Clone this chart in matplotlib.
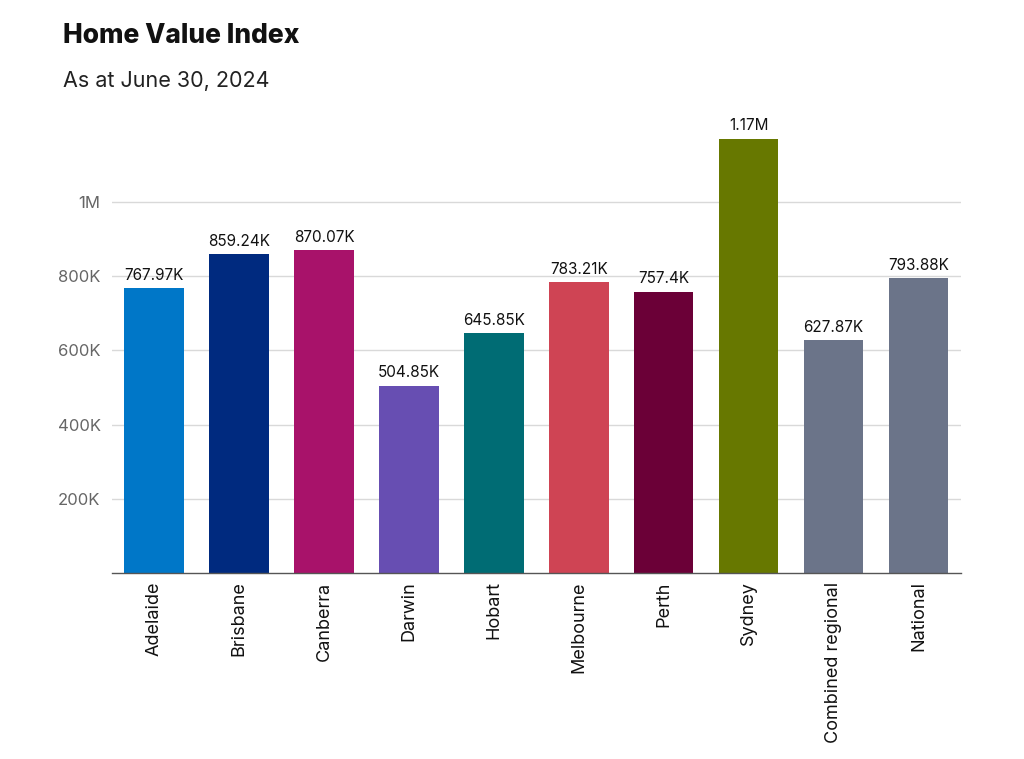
import matplotlib
matplotlib.use("Agg")
import matplotlib.pyplot as plt
from matplotlib.ticker import FuncFormatter

## Data
cities = ['Adelaide', 'Brisbane', 'Canberra', 'Darwin', 'Hobart', 'Melbourne',
          'Perth', 'Sydney', 'Combined regional', 'National']
values = [767970, 859240, 870070, 504850, 645850, 783210, 757400, 1170000, 627870, 793880]
labels = ['767.97K', '859.24K', '870.07K', '504.85K', '645.85K', '783.21K',
          '757.4K', '1.17M', '627.87K', '793.88K']
colors = ['#0077c8', '#002a7f', '#a8126a', '#674eb2', '#006c74', '#cf4454',
          '#6b0037', '#677800', '#6b7489', '#6b7489']
yticks = [200000, 400000, 600000, 800000, 1000000]

plt.rcParams['font.family'] = ['Inter', 'DejaVu Sans']

fig = plt.figure(figsize=(10.24, 7.59), dpi=100)
ax = fig.add_axes([0.109, 0.245, 0.8295, 0.5964])

x = range(len(cities))
ax.bar(x, values, width=0.7, color=colors, zorder=3)
for i, v in enumerate(values):
    ax.text(i, v + 15000, labels[i], ha='center', va='bottom', fontsize=11, color='#111111')

ax.set_xlim(-0.5, len(cities) - 0.5)
ax.set_ylim(0, 1220000)

def fmt(v, pos):
    if v >= 1000000:
        return '%gM' % (v / 1000000)
    return '%gK' % (v / 1000)

ax.set_yticks(yticks)
ax.yaxis.set_major_formatter(FuncFormatter(fmt))
ax.tick_params(axis='y', length=0, pad=8, labelsize=12, labelcolor='#666666')
ax.grid(axis='y', color='#d9d9d9', linewidth=1, zorder=0)

ax.set_xticks(list(x))
ax.set_xticklabels(cities, rotation=90, fontsize=13, color='#111111')
ax.tick_params(axis='x', length=0, pad=6)

for s in ['top', 'right', 'left']:
    ax.spines[s].set_visible(False)
ax.spines['bottom'].set_color('#555555')
ax.spines['bottom'].set_linewidth(1)
ax.spines['bottom'].set_zorder(4)

fig.text(0.062, 0.943, 'Home Value Index', fontsize=19, fontweight='heavy', color='#111111', va='baseline')
fig.text(0.062, 0.885, 'As at June 30, 2024', fontsize=15.5, color='#222222', va='baseline')

fig.savefig('out.png', dpi=100)
